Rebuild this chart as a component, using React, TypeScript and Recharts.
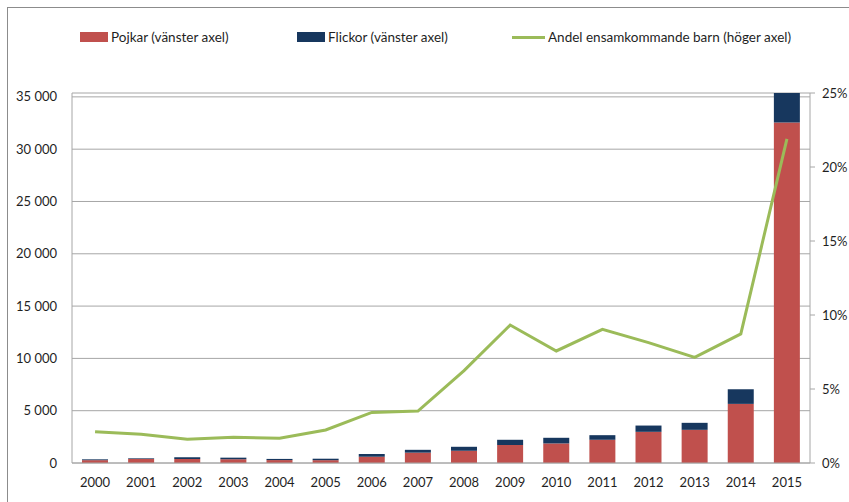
import { Bar, CartesianGrid, ComposedChart, Line, XAxis, YAxis } from 'recharts'

const years = ['2000', '2001', '2002', '2003', '2004', '2005', '2006', '2007', '2008', '2009', '2010', '2011', '2012', '2013', '2014', '2015']
const boys = [270, 390, 380, 360, 280, 270, 600, 990, 1170, 1720, 1870, 2220, 2980, 3170, 5650, 32550]
const girls = [80, 60, 170, 150, 110, 140, 260, 270, 380, 500, 540, 440, 600, 670, 1400, 2820]
const share = [2.11, 1.94, 1.6, 1.74, 1.67, 2.23, 3.42, 3.51, 6.24, 9.32, 7.57, 9.03, 8.13, 7.14, 8.72, 21.9]
const leftTicks = [0, 5000, 10000, 15000, 20000, 25000, 30000, 35000]
const rightTicks = [0, 5, 10, 15, 20, 25]

const legendItems = [
  { label: 'Pojkar (vänster axel)', color: '#C0504D', kind: 'box', x: 80 },
  { label: 'Flickor (vänster axel)', color: '#17375E', kind: 'box', x: 297 },
  { label: 'Andel ensamkommande barn (höger axel)', color: '#9BBB59', kind: 'line', x: 512 },
]

const data = years.map((year, i) => ({ year, boys: boys[i], girls: girls[i], share: share[i] }))

const font = 'Lato, "Open Sans", sans-serif'
const tickStyle = { fill: '#1f1f1f', fontSize: 13, fontFamily: font }
const grey = '#a6a6a6'

const fmtThousands = (v: number) => {
  const s = String(v)
  return s.length > 3 ? `${s.slice(0, -3)} ${s.slice(-3)}` : s
}

export default function App() {
  return (
    <div style={{ position: 'fixed', left: 0, top: 0, width: 849, height: 502, background: '#fff', overflow: 'hidden' }}>
      <div style={{ position: 'absolute', left: 7, top: 7, width: 900, height: 600, borderLeft: '1px solid #8c8c8c', borderTop: '1px solid #8c8c8c' }} />
      {legendItems.map(item => (
        <div key={item.label} style={{ position: 'absolute', left: item.x, top: 28, height: 18, display: 'flex', alignItems: 'center', fontFamily: font, fontSize: 13.5, color: '#1f1f1f', whiteSpace: 'nowrap' }}>
          {item.kind === 'box' ? (
            <span style={{ display: 'inline-block', width: 28, height: 10, background: item.color, marginRight: 3 }} />
          ) : (
            <span style={{ display: 'inline-block', width: 33, height: 3, background: item.color, marginRight: 3 }} />
          )}
          {item.label}
        </div>
      ))}
      <div style={{ position: 'absolute', left: 0, top: 0 }}>
        <ComposedChart width={849} height={502} data={data} margin={{ top: 93, right: 0, bottom: 0, left: 0 }} barSize={26}>
          <CartesianGrid yAxisId="left" vertical={false} stroke={grey} strokeWidth={1} />
          <XAxis dataKey="year" height={39} axisLine={{ stroke: grey }} tickLine={false} tickSize={0} tickMargin={15} tick={tickStyle} interval={0} />
          <YAxis yAxisId="left" width={72} domain={[0, 35000]} ticks={leftTicks} axisLine={{ stroke: grey }} tickLine={false} tickSize={0} tickMargin={15} tick={tickStyle} tickFormatter={v => fmtThousands(Number(v))} />
          <YAxis yAxisId="right" orientation="right" width={39} domain={[0, 25]} ticks={rightTicks} axisLine={{ stroke: grey }} tickLine={{ stroke: grey }} tickSize={5} tickMargin={7} tick={{ ...tickStyle, textAnchor: 'start' }} tickFormatter={v => `${v}%`} />
          <Bar yAxisId="left" dataKey="boys" stackId="a" fill="#C0504D" isAnimationActive={false} />
          <Bar yAxisId="left" dataKey="girls" stackId="a" fill="#17375E" isAnimationActive={false} />
          <Line yAxisId="right" dataKey="share" type="linear" stroke="#9BBB59" strokeWidth={3} dot={false} activeDot={false} isAnimationActive={false} />
        </ComposedChart>
      </div>
    </div>
  )
}
